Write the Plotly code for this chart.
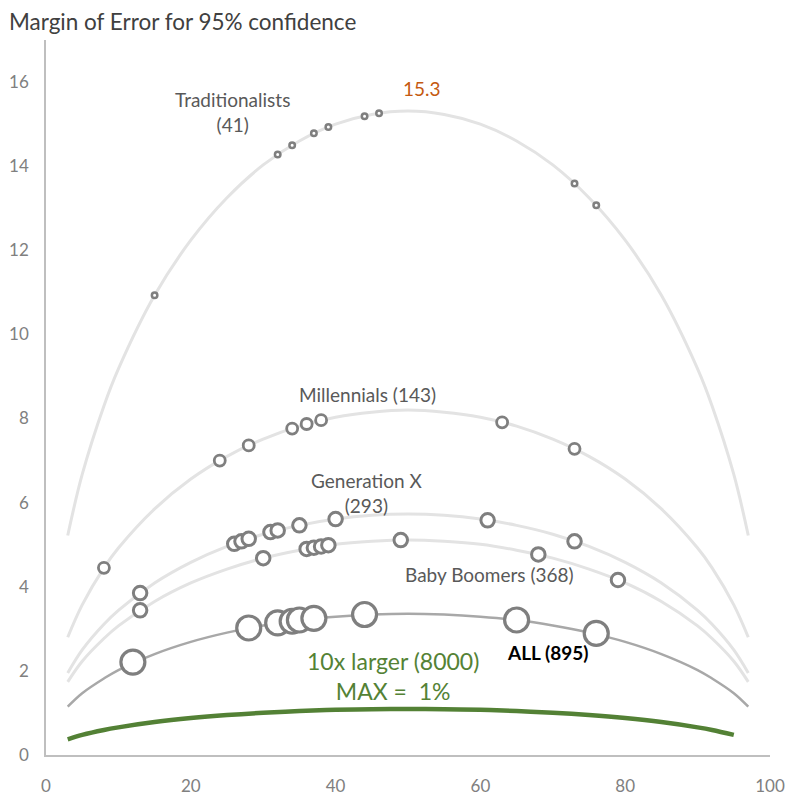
import plotly.graph_objects as go

# ---------------- data ----------------
curve_x = [3, 5, 8, 10, 15, 20, 25, 30, 35, 40, 45, 50, 55, 60, 65, 70, 75, 80, 85, 90, 92, 95, 97]

trad_curve = [5.22, 6.67, 8.30, 9.18, 10.93, 12.24, 13.25, 14.03, 14.60, 15.00, 15.23, 15.31,
              15.23, 15.00, 14.60, 14.03, 13.25, 12.24, 10.93, 9.18, 8.30, 6.67, 5.22]
mill_curve = [2.80, 3.57, 4.45, 4.92, 5.85, 6.56, 7.10, 7.51, 7.82, 8.03, 8.15, 8.20,
              8.15, 8.03, 7.82, 7.51, 7.10, 6.56, 5.85, 4.92, 4.45, 3.57, 2.80]
genx_curve = [1.95, 2.50, 3.11, 3.44, 4.09, 4.58, 4.96, 5.25, 5.46, 5.61, 5.70, 5.73,
              5.70, 5.61, 5.46, 5.25, 4.96, 4.58, 4.09, 3.44, 3.11, 2.50, 1.95]
boom_curve = [1.74, 2.23, 2.77, 3.07, 3.65, 4.09, 4.42, 4.68, 4.87, 5.01, 5.08, 5.11,
              5.08, 5.01, 4.87, 4.68, 4.42, 4.09, 3.65, 3.07, 2.77, 2.23, 1.74]
all_curve = [1.15, 1.47, 1.82, 2.02, 2.40, 2.69, 2.91, 3.08, 3.21, 3.29, 3.34, 3.36,
             3.34, 3.29, 3.21, 3.08, 2.91, 2.69, 2.40, 2.02, 1.82, 1.47, 1.15]

big_x = [3, 5, 8, 10, 15, 20, 25, 30, 35, 40, 45, 50, 55, 60, 65, 70, 75, 80, 85, 90, 92, 95]
big_curve = [0.374, 0.478, 0.595, 0.657, 0.783, 0.877, 0.949, 1.004, 1.045, 1.074, 1.090, 1.096,
             1.090, 1.074, 1.045, 1.004, 0.949, 0.877, 0.783, 0.657, 0.595, 0.478]

trad_x = [15, 32, 34, 37, 39, 44, 46, 73, 76]
trad_y = [10.93, 14.28, 14.50, 14.78, 14.93, 15.19, 15.26, 13.59, 13.07]

mill_x = [8, 24, 28, 34, 36, 38, 63, 73]
mill_y = [4.45, 7.00, 7.36, 7.76, 7.87, 7.96, 7.91, 7.28]

genx_x = [13, 26, 27, 28, 31, 32, 35, 40, 61, 73]
genx_y = [3.85, 5.02, 5.08, 5.14, 5.30, 5.34, 5.46, 5.61, 5.58, 5.08]

boom_x = [13, 30, 36, 37, 38, 39, 49, 68, 79]
boom_y = [3.44, 4.68, 4.90, 4.93, 4.96, 4.99, 5.11, 4.77, 4.16]

all_x = [12, 28, 32, 34, 35, 37, 44, 65, 76]
all_y = [2.21, 3.02, 3.14, 3.18, 3.21, 3.25, 3.34, 3.21, 2.89]

x_ticks = [0, 20, 40, 60, 80, 100]
y_ticks = [0, 2, 4, 6, 8, 10, 12, 14, 16]

FONT = "Lato"
LIGHT = "#e3e3e3"
RING = "#7f7f7f"

# page body has an 8px default margin; the figure is sized so the plot sits where the reference has it
W, H = 797, 792

fig = go.Figure()

for ys in (trad_curve, mill_curve, genx_curve, boom_curve):
    fig.add_trace(go.Scatter(x=curve_x, y=ys, mode="lines", line=dict(color=LIGHT, width=3, shape="spline"),
                             hoverinfo="skip", showlegend=False))
fig.add_trace(go.Scatter(x=curve_x, y=all_curve, mode="lines", line=dict(color="#a8a8a8", width=2.5, shape="spline"),
                         hoverinfo="skip", showlegend=False))
fig.add_trace(go.Scatter(x=big_x, y=big_curve, mode="lines", line=dict(color="#538135", width=4.5, shape="spline"),
                         hoverinfo="skip", showlegend=False))

def pts(xs, ys, size, lw):
    fig.add_trace(go.Scatter(x=xs, y=ys, mode="markers",
                             marker=dict(size=size, color="white", line=dict(color=RING, width=lw)),
                             showlegend=False))

pts(trad_x, trad_y, 5.5, 2.5)
pts(mill_x, mill_y, 11, 2.8)
pts(genx_x, genx_y, 13.5, 3)
pts(boom_x, boom_y, 13.5, 3)
pts(all_x, all_y, 24, 3.2)

peak = max(trad_curve)
peak_x = curve_x[trad_curve.index(peak)]

label_font = dict(family=FONT, size=19, color="#595959")
annos = [
    dict(x=25.8, y=15.29, text="Traditionalists<br>(41)", font=label_font),
    dict(x=peak_x, y=peak, text=f"{peak:.1f}", xshift=14, yshift=23,
         font=dict(family=FONT, size=19, color="#c55a11")),
    dict(x=44.4, y=8.58, text="Millennials (143)", font=label_font),
    dict(x=44.3, y=6.24, text="Generation X<br>(293)", font=label_font),
    dict(x=61.2, y=4.28, text="Baby Boomers (368)", font=label_font),
    dict(x=69.3, y=2.44, text="<b>ALL (895)</b>", font=dict(family=FONT, size=19, color="#000000")),
    dict(x=47.9, y=1.89, text="10x larger (8000)<br>MAX =\u00a0\u00a01%",
         font=dict(family=FONT, size=23, color="#548235")),
]
for a in annos:
    a.update(xref="x", yref="y", showarrow=False, xanchor="center", yanchor="middle")
    fig.add_annotation(**a)

axis_common = dict(showgrid=False, zeroline=False, showline=True, linecolor="#bfbfbf", linewidth=1.5,
                   ticks="", automargin=False,
                   tickfont=dict(family=FONT, size=17, color="#808080"))

fig.update_layout(
    width=W, height=H,
    margin=dict(l=38, r=35, t=32, b=45, autoexpand=False),
    paper_bgcolor="white", plot_bgcolor="white",
    title=dict(text="Margin of Error for 95% confidence", xref="container", yref="container",
               x=1 / W, xanchor="left", y=1 - 14 / H, yanchor="middle", pad=dict(l=0, r=0, t=0, b=0),
               font=dict(family=FONT, size=22.5, color="#404040")),
    xaxis=dict(range=[0, 100], tickvals=x_ticks, ticklabelstandoff=15, **axis_common),
    yaxis=dict(range=[0, 17], tickvals=y_ticks, ticklabelstandoff=12, **axis_common),
)

fig.write_html("out.html")
